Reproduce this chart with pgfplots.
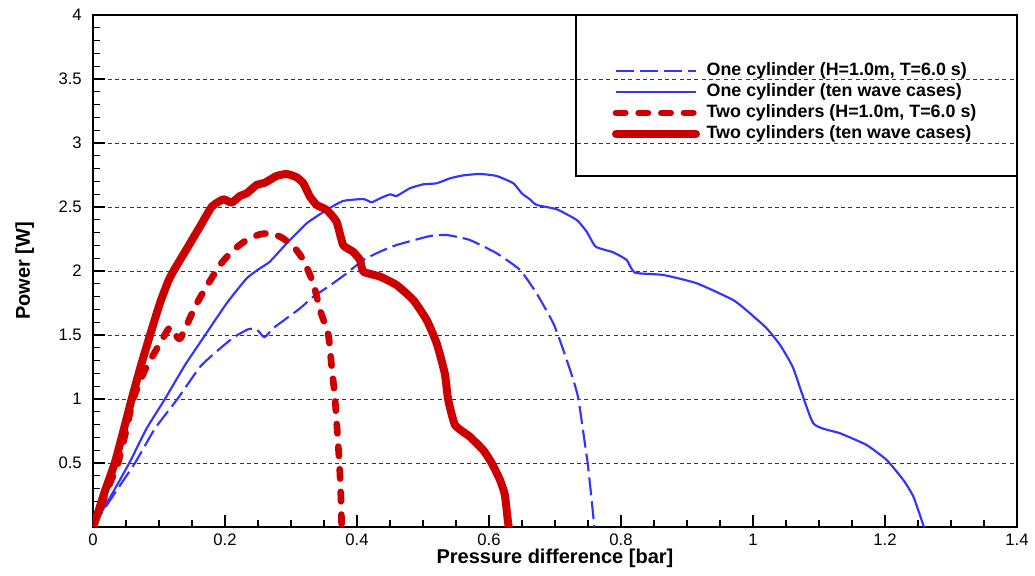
\documentclass[border=0pt]{standalone}
\usepackage{fontspec}
\setmainfont{Liberation Sans}
\usepackage{pgfplots}
\pgfplotsset{compat=1.18}
\definecolor{bl}{RGB}{51,51,255}
\definecolor{rd}{RGB}{204,0,0}
\begin{document}
\begin{tikzpicture}
\begin{axis}[
 scale only axis, width=693pt, height=384pt,
 xmin=0,xmax=1.4,ymin=0,ymax=4,
 xtick={0,0.2,...,1.4}, ytick={0,0.5,...,4},
 xticklabels={0,0.2,0.4,0.6,0.8,1,1.2,1.4},
 yticklabels={{},0.5,1,1.5,2,2.5,3,3.5,4},
 minor x tick num=3, minor y tick num=4,
 xtick pos=bottom, ytick pos=left, tick align=inside,
 major tick length=9pt, minor tick length=5pt,
 every major tick/.style={line width=1.1pt, black},
 every minor tick/.style={line width=0.8pt, black},
 axis line style={line width=1.8pt},
 ymajorgrids, major grid style={line width=0.6pt, black!80, dash pattern=on 3pt off 2.5pt},
 ticklabel style={font=\fontsize{12.5}{14}\selectfont},
 xticklabel style={inner sep=0pt, yshift=-5pt},
 yticklabel style={inner sep=0pt, xshift=-8.25pt},
 xlabel={Pressure difference [bar]}, ylabel={Power [W]},
 label style={font=\bfseries\fontsize{15}{17}\selectfont, inner sep=0pt},
 xlabel style={at={(axis description cs:0.5,-0.0709)}, anchor=base},
 ylabel style={at={(axis description cs:-0.0682,0.5)}, anchor=base},
 legend style={at={(rel axis cs:0.5595,0.907)}, anchor=north west, draw=none, fill=none,
   inner sep=0pt, outer sep=0pt, row sep=3.25pt, column sep=1.5pt,
   font=\bfseries\fontsize{13.4}{15}\selectfont,
   nodes={inner sep=0pt, text height=9.5pt, text depth=3pt}},
 legend cell align=left,
 legend image code/.code={\path (0pt,0pt); \draw[#1] (1.5pt,0pt) -- (61.5pt,0pt); \path (65pt,0pt);},
]
\coordinate (sw) at (rel axis cs:0,0);
\coordinate (ne) at (rel axis cs:1,1);
\draw[line width=1pt] (rel axis cs:0.5227,0.6855) rectangle (rel axis cs:1,1);

\addplot[color=bl, line width=1.6pt, dash pattern=on 13.5pt off 4.5pt, line join=round, smooth, tension=0.3] coordinates {
(0,0)(0.012,0.1)(0.035,0.28)(0.0636,0.5)(0.094,0.77)(0.128,1.0)(0.162,1.25)(0.187,1.37)(0.2126,1.48)(0.2353,1.545)(0.248,1.545)(0.2596,1.482)(0.273,1.552)(0.3136,1.708)(0.3338,1.799)(0.36,1.89)(0.3844,1.982)(0.4096,2.086)(0.435,2.151)(0.460,2.203)(0.5106,2.273)(0.536,2.281)(0.571,2.242)(0.6117,2.138)(0.647,2.008)(0.672,1.826)(0.6975,1.591)(0.7126,1.383)(0.7278,1.148)(0.7355,1.0)(0.7445,0.68)(0.7495,0.5)(0.755,0.237)(0.7596,0)
};
\addlegendentry{One cylinder (H=1.0m, T=6.0 s)}

\addplot[color=bl, line width=1.6pt, line join=round, smooth, tension=0.3] coordinates {
(0,0)(0.01,0.09)(0.028,0.25)(0.055,0.5)(0.0813,0.77)(0.109,1.0)(0.14,1.27)(0.170,1.5)(0.2026,1.748)(0.2329,1.943)(0.253,2.021)(0.268,2.073)(0.2935,2.216)(0.3237,2.372)(0.354,2.477)(0.379,2.547)(0.4096,2.562)(0.4222,2.537)(0.435,2.568)(0.45,2.599)(0.460,2.586)(0.480,2.646)(0.5005,2.677)(0.5207,2.685)(0.541,2.724)(0.561,2.747)(0.5864,2.758)(0.6117,2.742)(0.637,2.685)(0.6496,2.607)(0.662,2.56)(0.672,2.516)(0.7026,2.482)(0.733,2.398)(0.748,2.307)(0.7617,2.19)(0.788,2.146)(0.8086,2.086)(0.821,1.987)(0.864,1.969)(0.9147,1.904)(0.970,1.773)(0.9955,1.669)(1.0207,1.552)(1.041,1.422)(1.061,1.24)(1.0914,0.81)(1.132,0.732)(1.172,0.641)(1.2026,0.523)(1.2278,0.367)(1.243,0.237)(1.259,0)
};
\addlegendentry{One cylinder (ten wave cases)}

\addplot[color=rd, line width=5pt, dash pattern=on 7pt off 10pt, line cap=round, line join=round, smooth, tension=0.3] coordinates {
(0,0)(0.01,0.13)(0.024,0.32)(0.038,0.5)(0.05,0.75)(0.061,1.0)(0.079,1.23)(0.1015,1.435)(0.1167,1.56)(0.1318,1.47)(0.1545,1.721)(0.172,1.877)(0.1924,2.047)(0.2126,2.164)(0.2329,2.242)(0.253,2.287)(0.2707,2.294)(0.288,2.255)(0.306,2.177)(0.3187,2.086)(0.3338,1.904)(0.344,1.695)(0.3566,1.5)(0.3616,1.252)(0.3667,1.0)(0.3733,0.5)(0.3755,0.25)(0.3768,0)
};
\addlegendentry{Two cylinders (H=1.0m, T=6.0 s)}

\addplot[color=rd, line width=6pt, line cap=round, line join=round, smooth, tension=0.3] coordinates {
(0,0)(0.008,0.12)(0.018,0.28)(0.033,0.5)(0.046,0.75)(0.0586,1.0)(0.072,1.25)(0.0864,1.5)(0.1015,1.75)(0.114,1.92)(0.122,2.0)(0.141,2.164)(0.162,2.346)(0.180,2.502)(0.1975,2.56)(0.210,2.534)(0.2227,2.586)(0.2329,2.607)(0.248,2.672)(0.2606,2.69)(0.278,2.742)(0.2935,2.758)(0.3086,2.732)(0.3187,2.685)(0.3288,2.58)(0.339,2.516)(0.354,2.477)(0.369,2.385)(0.379,2.203)(0.394,2.151)(0.4045,2.086)(0.4096,1.995)(0.435,1.956)(0.460,1.89)(0.4853,1.773)(0.5056,1.617)(0.5207,1.435)(0.533,1.2)(0.538,1.0)(0.5485,0.797)(0.571,0.705)(0.5914,0.60)(0.604,0.5)(0.6167,0.367)(0.624,0.25)(0.629,0.03)(0.63,0)
};
\addlegendentry{Two cylinders (ten wave cases)}
\end{axis}
\pgfresetboundingbox
\path ([shift={(-69.75pt,-36.75pt)}]sw) rectangle ([shift={(13.5pt,11.25pt)}]ne);
\end{tikzpicture}
\end{document}
